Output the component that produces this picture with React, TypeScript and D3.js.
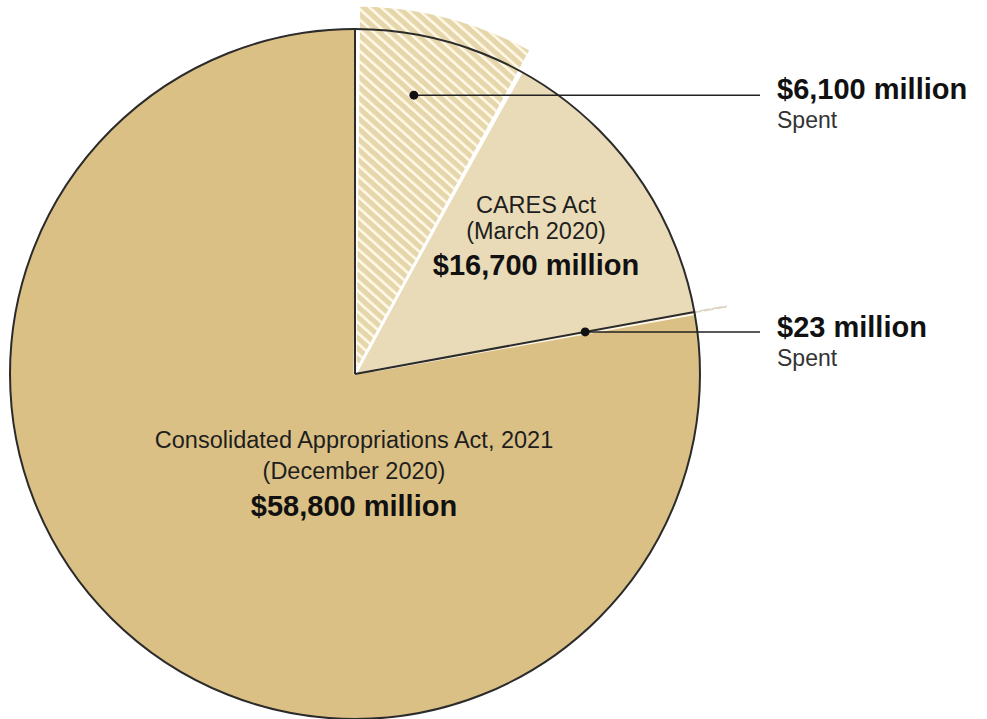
import React from "react";
import * as d3 from "d3";

const acts = ["CARES Act", "Consolidated Appropriations Act, 2021"];
const actDates = ["(March 2020)", "(December 2020)"];
const totals = [16700, 58800];
const spent = [6100, 23];
const totalLabels = ["$16,700 million", "$58,800 million"];
const spentLabels = ["$6,100 million", "$23 million"];
const spentSub = ["Spent", "Spent"];

const W = 987;
const H = 719;
const cx = 355;
const cy = 374;
const R = 345;
const FONT = "'Liberation Sans', Arial, Helvetica, sans-serif";

export default function App() {
  const sum = d3.sum(totals);
  const angle = d3.scaleLinear().domain([0, sum]).range([0, 2 * Math.PI]);
  const pie = d3.pie<number>().sort(null).value((d) => d);
  const slices = pie(totals);
  const fills = ["#E9DBB7", "#DBC085"];

  const arcMain = d3.arc<any>().innerRadius(0).outerRadius(R);

  const spentArcs = slices.map((s, i) => ({
    startAngle: s.startAngle,
    endAngle: s.startAngle + angle(spent[i]),
  }));

  const hatchArc = d3.arc<any>().innerRadius(0).outerRadius(369);
  const thinArc = d3.arc<any>().innerRadius(R).outerRadius(377);

  const pt = (a: number, r: number) => {
    const [x, y] = d3.pointRadial(a, r);
    return [cx + x, cy + y];
  };

  const dot0 = pt(spentArcs[0].startAngle + (spentArcs[0].endAngle - spentArcs[0].startAngle) * 0.41, 285);
  const dot1 = pt(slices[1].startAngle, 234);
  const dots = [dot0, dot1];
  const leaderEnd = 760;
  const labelX = 777;
  const labelBase = [99, 337];

  const boundaries = slices.map((s) => s.startAngle);
  const P = 7.8;

  return (
    <svg
      width={W}
      height={H}
      style={{ position: "absolute", left: 0, top: 0, background: "#fff" }}
    >
      <defs>
        <pattern
          id="hatch"
          width={P}
          height={P}
          patternUnits="userSpaceOnUse"
          patternTransform="rotate(-48)"
        >
          <rect width={P} height={P} fill="#E6D6AC" />
          <line x1={1.3} y1={0} x2={1.3} y2={P} stroke="#FFF9E6" strokeWidth={2.6} />
        </pattern>
      </defs>
      <g transform={`translate(${cx},${cy})`}>
        {slices.map((s, i) => (
          <path key={i} d={arcMain(s) as string} fill={fills[i]} />
        ))}
        <path d={hatchArc(spentArcs[0]) as string} fill="#fff" />
        <path
          d={hatchArc({ ...spentArcs[0], padAngle: 0.02 }) as string}
          fill="url(#hatch)"
          stroke="#fff"
          strokeWidth={3}
        />
        <path
          d={thinArc(spentArcs[1]) as string}
          fill="#DDD5C2"
          stroke="#DDD5C2"
          strokeWidth={1.5}
          strokeDasharray="10 3"
        />
      </g>
      {(() => {
        const a = spentArcs[1].startAngle + 0.006;
        const [x1, y1] = pt(a, 20);
        const [x2, y2] = pt(a, R - 1);
        return <line x1={x1} y1={y1} x2={x2} y2={y2} stroke="#FFF8E8" strokeWidth={2.5} />;
      })()}
      <circle cx={cx} cy={cy} r={R} fill="none" stroke="#2b2b2b" strokeWidth={2} />
      {boundaries.map((a, i) => {
        const [x, y] = pt(a, R);
        return (
          <line key={i} x1={cx} y1={cy} x2={x} y2={y} stroke="#2b2b2b" strokeWidth={2} />
        );
      })}
      {dots.map(([x, y], i) => (
        <g key={i}>
          <line x1={x} y1={y} x2={leaderEnd} y2={y} stroke="#222" strokeWidth={1.5} />
          <circle cx={x} cy={y} r={4.5} fill="#111" />
          <text
            x={labelX}
            y={labelBase[i]}
            fontFamily={FONT}
            fontWeight="bold"
            fontSize={29}
            fill="#111"
          >
            {spentLabels[i]}
          </text>
          <text x={labelX} y={labelBase[i] + 29} fontFamily={FONT} fontSize={23} fill="#333">
            {spentSub[i]}
          </text>
        </g>
      ))}
      <g fontFamily={FONT} textAnchor="middle">
        <text x={536} y={213} fontSize={23.5} fill="#1e1e1e">{acts[0]}</text>
        <text x={536} y={239} fontSize={23.5} fill="#1e1e1e">{actDates[0]}</text>
        <text x={536} y={275} fontSize={29} fontWeight="bold" fill="#111">{totalLabels[0]}</text>
      </g>
      <g fontFamily={FONT} textAnchor="middle">
        <text x={354} y={448} fontSize={23.5} fill="#1e1e1e">{acts[1]}</text>
        <text x={354} y={479} fontSize={23.5} fill="#1e1e1e">{actDates[1]}</text>
        <text x={354} y={516} fontSize={29} fontWeight="bold" fill="#111">{totalLabels[1]}</text>
      </g>
    </svg>
  );
}
